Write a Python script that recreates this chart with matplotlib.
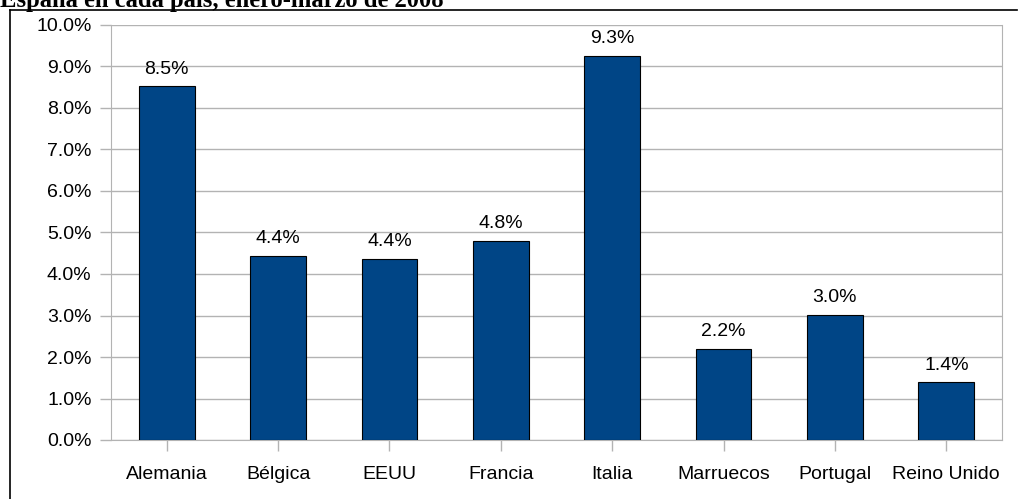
import numpy as np
import matplotlib.pyplot as plt
from matplotlib.lines import Line2D
from matplotlib.ticker import FuncFormatter

paises = ['Alemania', 'Bélgica', 'EEUU', 'Francia', 'Italia', 'Marruecos', 'Portugal', 'Reino Unido']
porcentajes = [8.52, 4.44, 4.37, 4.80, 9.26, 2.20, 3.02, 1.40]
titulo = 'España en cada país, enero-marzo de 2008'

plt.rcParams['font.family'] = ['Liberation Sans', 'DejaVu Sans']

fig = plt.figure(figsize=(10.27, 4.99), dpi=100, facecolor='white')
ax = fig.add_axes([111 / 1027, 1 - 440 / 499, (1002 - 111) / 1027, 415 / 499])

x = np.arange(len(paises))
bars = ax.bar(x, porcentajes, width=0.5, color='#004586', edgecolor='black', linewidth=0.8, zorder=3)
for xi, v in zip(x, porcentajes):
    ax.annotate('%.1f%%' % v, (xi, v), xytext=(0, 6), textcoords='offset points',
                ha='center', va='bottom', fontsize=14)

ax.set_xlim(-0.5, len(paises) - 0.5)
ax.set_ylim(0, 10)
ax.set_yticks(np.arange(0, 10.5, 1))
ax.yaxis.set_major_formatter(FuncFormatter(lambda v, p: '%.1f%%' % v))
ax.set_xticks(x)
ax.set_xticklabels(paises)
ax.grid(axis='y', color='#b3b3b3', linewidth=1, zorder=0)
ax.tick_params(axis='both', labelsize=14, color='#b3b3b3', length=8, width=1)
ax.tick_params(axis='y', pad=6)
ax.tick_params(axis='x', pad=11)
for s in ['left', 'bottom', 'right', 'top']:
    ax.spines[s].set_color('#b3b3b3')
ax.spines['top'].set_visible(False)

# marco exterior y título recortado
fig.add_artist(Line2D([10 / 1027, 1017 / 1027], [1 - 9.5 / 499] * 2, color='black', lw=1.2))
fig.add_artist(Line2D([10 / 1027, 10 / 1027], [0, 1 - 9.5 / 499], color='black', lw=1.2))
fig.text(0.0, 1 - 6.5 / 499, titulo, family='Liberation Serif', weight='bold', fontsize=17.7,
         ha='left', va='baseline')

plt.savefig('out.png', dpi=100)
